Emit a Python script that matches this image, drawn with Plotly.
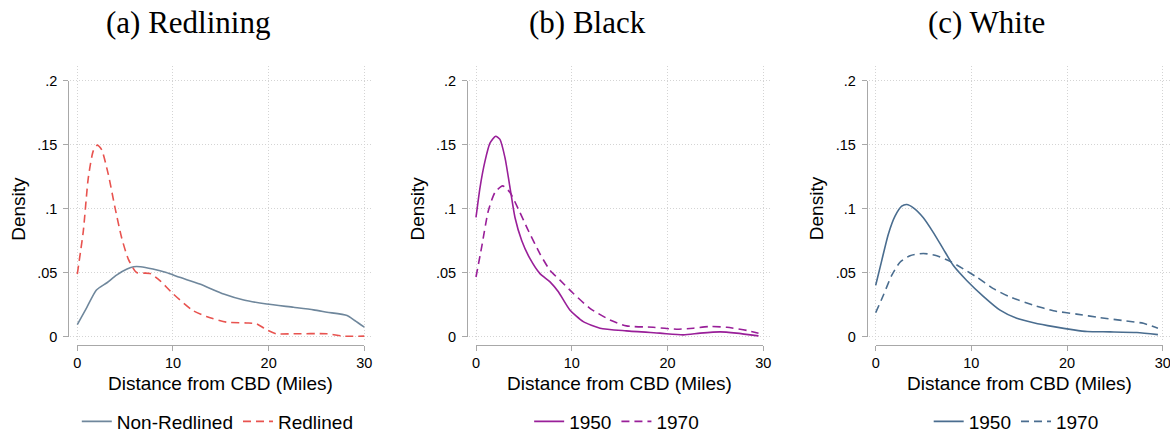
import plotly.graph_objects as go

# ---------------- data ----------------
# Panel (a) Redlining
nonred_x = [0, 1.0, 2.0, 3.1, 4.1, 5.2, 5.9, 6.6, 7.9, 9.3, 10.7, 12.8, 15.3, 17.4, 19.8, 22.6, 24.7, 26.1, 28.2, 29.0, 30.0]
nonred_y = [0.0093, 0.0228, 0.0363, 0.042, 0.048, 0.0527, 0.0545, 0.0545, 0.0527, 0.050, 0.0462, 0.041, 0.0332, 0.0285,
            0.0254, 0.0228, 0.0208, 0.019, 0.0164, 0.0125, 0.0073]
red_x = [0, 0.63, 1.15, 1.67, 2.1, 2.54, 3.24, 3.94, 4.63, 5.33, 6.2, 7.6, 8.64, 10.03, 12.1, 13.5, 15.6, 17.7, 18.75,
         19.8, 20.8, 22.6, 26.1, 27.8, 30.0]
red_y = [0.0488, 0.0825, 0.124, 0.145, 0.1495, 0.146, 0.1267, 0.1007, 0.0773, 0.0605, 0.050, 0.0493, 0.0436, 0.0332,
         0.0202, 0.0156, 0.0112, 0.0106, 0.0099, 0.0052, 0.0021, 0.0021, 0.0021, 0.0003, 0.0003]

# Panel (b) Black
b1950_x = [0, 0.42, 0.94, 1.46, 2.05, 2.5, 3.03, 3.55, 4.07, 4.77, 5.64, 6.68, 7.73, 8.6, 9.8, 11.2, 12.95, 15.7, 19.2,
           21.65, 23.4, 25.5, 27.2, 29.5]
b1950_y = [0.0931, 0.1164, 0.137, 0.151, 0.1565, 0.154, 0.1396, 0.1164, 0.093, 0.075, 0.0608, 0.0491, 0.0427, 0.0349,
           0.0207, 0.0116, 0.0065, 0.0044, 0.0026, 0.0013, 0.0026, 0.0036, 0.0026, 0.0005]
b1970_x = [0, 0.59, 1.29, 1.98, 2.78, 3.55, 4.42, 5.46, 6.68, 7.73, 8.77, 10.17, 11.9, 13.99, 15.7, 18.5, 20.95, 22.7,
           24.4, 26.2, 28.3, 29.5]
b1970_y = [0.0465, 0.0698, 0.0983, 0.1125, 0.1177, 0.1125, 0.0996, 0.0828, 0.0646, 0.0517, 0.044, 0.0336, 0.022, 0.0129,
           0.0083, 0.0072, 0.0057, 0.0065, 0.0078, 0.0072, 0.0047, 0.0026]

# Panel (c) White
w1950_x = [0, 0.63, 1.32, 2.02, 2.72, 3.24, 3.94, 4.98, 6.03, 7.07, 8.12, 9.51, 11.25, 13.0, 14.74, 16.5, 18.6, 20.7,
           22.1, 24.5, 27.3, 29.5]
w1950_y = [0.040, 0.0593, 0.0799, 0.094, 0.1018, 0.1031, 0.1005, 0.0928, 0.0812, 0.0683, 0.0554, 0.0438, 0.0314, 0.0206,
           0.0142, 0.0108, 0.0077, 0.0052, 0.0039, 0.0036, 0.0031, 0.0015]
w1970_x = [0, 0.8, 1.67, 2.54, 3.59, 4.98, 6.38, 7.77, 9.16, 10.56, 12.3, 14.04, 16.48, 18.57, 21.0, 23.45, 26.2, 27.98,
           29.5]
w1970_y = [0.0186, 0.0322, 0.0477, 0.058, 0.0631, 0.0649, 0.0631, 0.0588, 0.0528, 0.0464, 0.0374, 0.0309, 0.0245, 0.0201,
           0.0175, 0.0147, 0.0121, 0.0103, 0.0064]

titles = ["(a) Redlining", "(b) Black", "(c) White"]
x_ticks = [0, 10, 20, 30]
x_ticktext = ["0", "10", "20", "30"]
y_ticks = [0, 0.05, 0.1, 0.15, 0.2]
y_ticktext = ["0", ".05", ".1", ".15", ".2"]
x_title = "Distance from CBD (Miles)"
y_title = "Density"

# ---------------- styling / geometry ----------------
W, H = 1170, 436
SANS = "Liberation Sans, Arial, Helvetica, sans-serif"
SERIF = "Liberation Serif, Times New Roman, serif"
AXIS_COLOR = "#a8a8a8"
GRID_COLOR = "#d4d4d4"

C_NONRED = "#6f879c"
C_RED = "#e8534f"
C_PURPLE = "#991f99"
C_BLUE = "#4a6d8f"

panel_px = [(77.3, 364.3), (476.0, 763.3), (875.7, 1162.7)]  # pixel x of 0 and 30
title_cx = [187.5, 587.0, 986.0]
Y0_PX, YTOP_PX = 336.5, 80.5
XAXIS_LINE_PX = 345.0
PLOT_TOP_PX, PLOT_BOT_PX = 66.0, 340.0


def fx(px):
    return px / W


def fy(py):
    return 1 - py / H


series = [
    [(nonred_x, nonred_y, "Non-Redlined", C_NONRED, "solid"),
     (red_x, red_y, "Redlined", C_RED, "8px,5px")],
    [(b1950_x, b1950_y, "1950", C_PURPLE, "solid"),
     (b1970_x, b1970_y, "1970", C_PURPLE, "8px,5px")],
    [(w1950_x, w1950_y, "1950", C_BLUE, "solid"),
     (w1970_x, w1970_y, "1970", C_BLUE, "8px,5px")],
]

fig = go.Figure()
layout = dict(
    width=W, height=H, margin=dict(l=0, r=0, t=0, b=0, pad=0, autoexpand=False),
    paper_bgcolor="white", plot_bgcolor="rgba(0,0,0,0)",
    font=dict(family=SANS, color="black"),
    annotations=[],
    hovermode=False,
)

sy = (Y0_PX - YTOP_PX) / 0.2  # px per density unit

for k, (x0, x30) in enumerate(panel_px):
    gi = 2 * k + 1  # grid axes index
    ti = 2 * k + 2  # tick axes index
    gx = "x" if gi == 1 else f"x{gi}"
    gy = "y" if gi == 1 else f"y{gi}"
    tx, ty = f"x{ti}", f"y{ti}"
    legend_name = "legend" if k == 0 else f"legend{k + 1}"

    sx = (x30 - x0) / 30.0
    left_px = x0 - 7
    right_px = min(x30 + 9, W)

    # grid (data) axes
    layout["xaxis" if gi == 1 else f"xaxis{gi}"] = dict(
        domain=[fx(left_px), fx(right_px)],
        range=[(left_px - x0) / sx, (right_px - x0) / sx],
        anchor=gy, showline=False, ticks="", showticklabels=False,
        tickvals=x_ticks, showgrid=True, gridcolor=GRID_COLOR, griddash="1px,2px", gridwidth=1,
        zeroline=False, fixedrange=True, automargin=False,
    )
    layout["yaxis" if gi == 1 else f"yaxis{gi}"] = dict(
        domain=[fy(PLOT_BOT_PX), fy(PLOT_TOP_PX)],
        range=[-(PLOT_BOT_PX - Y0_PX) / sy, (Y0_PX - PLOT_TOP_PX) / sy],
        anchor=gx, showline=False, ticks="", showticklabels=False,
        tickvals=y_ticks, showgrid=True, gridcolor=GRID_COLOR, griddash="1px,2px", gridwidth=1,
        zeroline=False, fixedrange=True, automargin=False,
    )
    # offset tick axes (Stata style)
    layout[f"xaxis{ti}"] = dict(
        domain=[fx(x0), fx(x30)], range=[0, 30], anchor="free", position=fy(XAXIS_LINE_PX),
        showline=True, linecolor=AXIS_COLOR, linewidth=1,
        ticks="outside", ticklen=5, tickcolor=AXIS_COLOR, tickwidth=1,
        tickvals=x_ticks, ticktext=x_ticktext, tickfont=dict(family=SANS, size=14.5, color="black"),
        ticklabeloverflow="allow",
        showgrid=False, zeroline=False, fixedrange=True, automargin=False,
    )
    layout[f"yaxis{ti}"] = dict(
        domain=[fy(Y0_PX), fy(YTOP_PX)], range=[0, 0.2], anchor="free", position=fx(x0 - 9),
        showline=True, linecolor=AXIS_COLOR, linewidth=1,
        ticks="outside", ticklen=5, tickcolor=AXIS_COLOR, tickwidth=1,
        tickvals=y_ticks, ticktext=y_ticktext, tickfont=dict(family=SANS, size=14.5, color="black"),
        ticklabelstandoff=3, ticklabeloverflow="allow",
        showgrid=False, zeroline=False, fixedrange=True, automargin=False,
    )

    # invisible anchor trace so the tick axes are drawn
    fig.add_trace(go.Scatter(x=[0, 30], y=[0, 0.2], xaxis=tx, yaxis=ty, mode="markers",
                             marker=dict(opacity=0), showlegend=False, hoverinfo="skip"))

    for xs, ys, name, color, dash in series[k]:
        fig.add_trace(go.Scatter(
            x=xs, y=ys, name=name, xaxis=gx, yaxis=gy, mode="lines",
            line=dict(color=color, width=1.6, dash=dash, shape="spline", smoothing=0.6),
            legend=legend_name, hoverinfo="skip",
        ))

    layout[legend_name] = dict(
        orientation="h", x=fx((x0 + x30) / 2 - 3), xanchor="center", y=fy(421.5), yanchor="middle",
        font=dict(family=SANS, size=19, color="black"), bgcolor="rgba(0,0,0,0)",
        itemclick=False, itemdoubleclick=False, traceorder="normal",
    )

    # panel title
    layout["annotations"].append(dict(
        text=titles[k], x=fx(title_cx[k]), y=fy(22), xref="paper", yref="paper",
        xanchor="center", yanchor="middle", showarrow=False,
        font=dict(family=SERIF, size=31, color="black"),
    ))
    # x axis title
    layout["annotations"].append(dict(
        text=x_title, x=fx((x0 + x30) / 2), y=fy(383), xref="paper", yref="paper",
        xanchor="center", yanchor="middle", showarrow=False,
        font=dict(family=SANS, size=19, color="black"),
    ))
    # y axis title
    layout["annotations"].append(dict(
        text=y_title, x=fx(x0 - 9 - 50), y=fy((Y0_PX + YTOP_PX) / 2), xref="paper", yref="paper",
        xanchor="center", yanchor="middle", showarrow=False, textangle=-90,
        font=dict(family=SANS, size=19, color="black"),
    ))

fig.update_layout(**layout)
fig.write_html("out.html", config={"displayModeBar": False, "staticPlot": True},
               post_script="document.body.style.margin='0';document.body.style.overflow='hidden';")
